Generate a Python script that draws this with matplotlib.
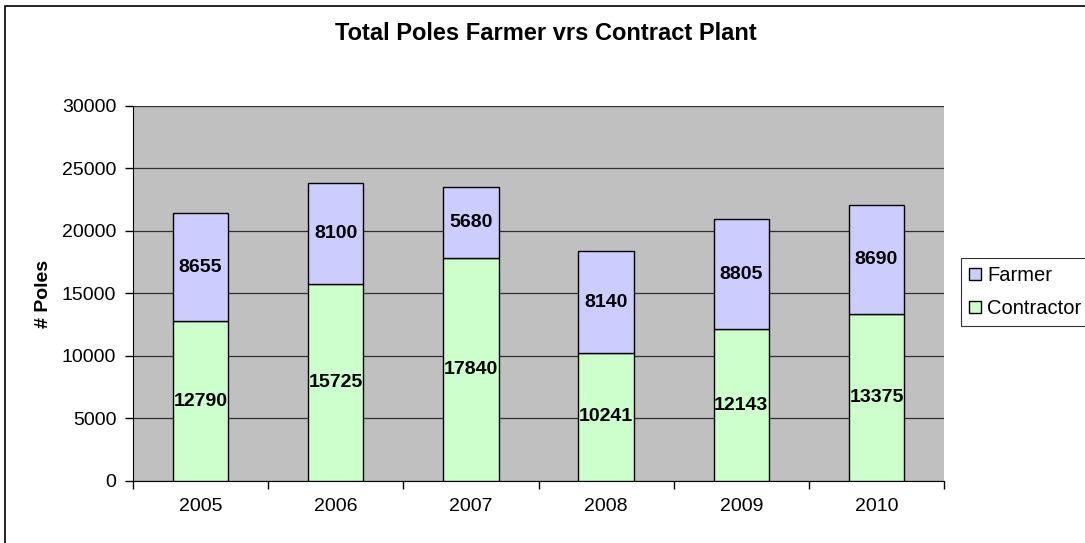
import matplotlib.pyplot as plt
import numpy as np
from matplotlib.patches import Rectangle

plt.rcParams["font.family"] = ["Liberation Sans", "DejaVu Sans"]

years = ["2005", "2006", "2007", "2008", "2009", "2010"]
contractor = [12790, 15725, 17840, 10241, 12143, 13375]
farmer = [8655, 8100, 5680, 8140, 8805, 8690]

fig = plt.figure(figsize=(10.85, 5.43), dpi=100)
ax = fig.add_axes([0.1226, 0.1142, 0.7475, 0.6906])
ax.set_facecolor("#C0C0C0")

x = np.arange(len(years))
bars_c = ax.bar(x, contractor, width=0.41, color="#CCFFCC", edgecolor="black",
                linewidth=1, label="Contractor", zorder=3)
bars_f = ax.bar(x, farmer, width=0.41, bottom=contractor, color="#CCCCFF",
                edgecolor="black", linewidth=1, label="Farmer", zorder=3)

for i in range(len(years)):
    ax.text(x[i], contractor[i] / 2, str(contractor[i]), ha="center", va="center",
            fontsize=14, fontweight="bold", zorder=4)
    ax.text(x[i], contractor[i] + farmer[i] / 2, str(farmer[i]), ha="center",
            va="center", fontsize=14, fontweight="bold", zorder=4)

ax.set_xlim(-0.5, len(years) - 0.5)
ax.set_ylim(0, 30000)
ax.set_yticks(range(0, 30001, 5000))
ax.yaxis.grid(True, color="#303030", linewidth=0.9, zorder=1)
ax.set_axisbelow(True)

ax.set_xticks(x)
ax.set_xticklabels(years, fontsize=14)
ax.set_xticks(np.arange(-0.5, len(years), 1), minor=True)
ax.tick_params(axis="x", which="major", length=0, pad=12)
ax.tick_params(axis="x", which="minor", length=6, width=1, direction="out")
ax.tick_params(axis="y", length=6, width=1, labelsize=14, pad=6)

for s in ["top", "right"]:
    ax.spines[s].set_visible(False)
ax.spines["left"].set_color("black")
ax.spines["bottom"].set_color("black")

ax.set_ylabel("# Poles", fontsize=14, fontweight="bold", labelpad=7)

fig.text(0.503, 0.938, "Total Poles Farmer vrs Contract Plant", ha="center",
         va="center", fontsize=17, fontweight="bold")

handles = [bars_f, bars_c]
leg = fig.legend(handles, ["Farmer", "Contractor"], loc="center left",
                 bbox_to_anchor=(0.8857, 0.462), frameon=True, fancybox=False,
                 edgecolor="black", fontsize=14.5, handlelength=0.6,
                 handleheight=0.6, handletextpad=0.3, borderpad=0.4,
                 labelspacing=0.7, borderaxespad=0)
leg.get_frame().set_linewidth(0.8)

fig.patches.append(Rectangle((0.0046, -0.05), 1.1, 1.0395, transform=fig.transFigure,
                             fill=False, edgecolor="black", linewidth=1.2))

fig.savefig("out.png", dpi=100)
